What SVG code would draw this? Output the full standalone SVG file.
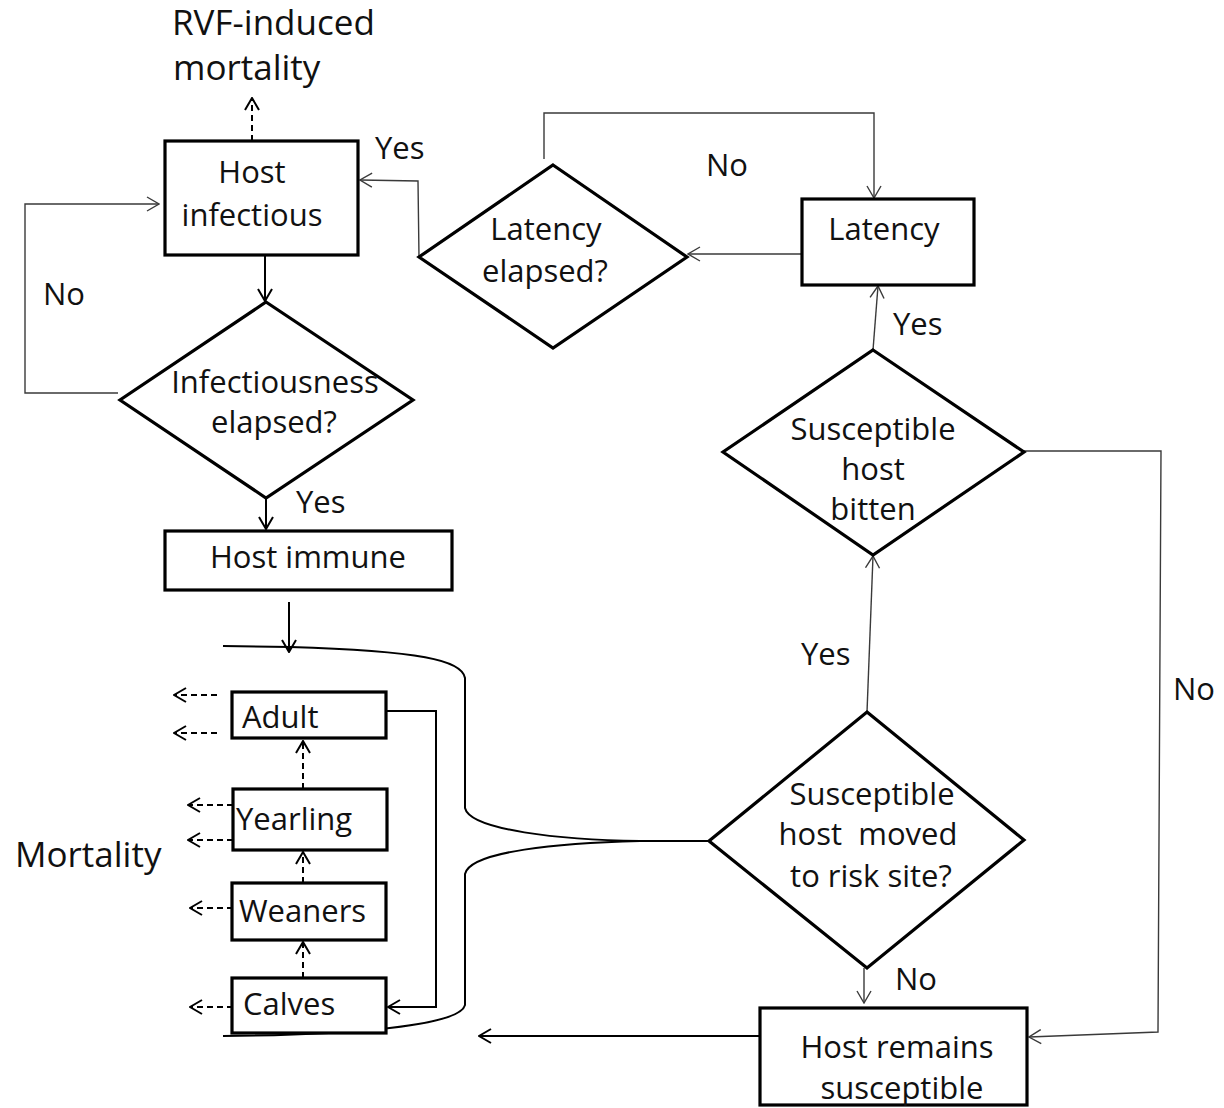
<svg xmlns="http://www.w3.org/2000/svg" width="1224" height="1108" viewBox="0 0 1224 1108">
<defs>
<style>
text{font-family:"Open Sans","Noto Sans",sans-serif;font-size:31px;fill:#111}
.big{font-size:35px}
.mid{text-anchor:middle}
.node{fill:#fff;stroke:#000;stroke-width:3.2}
.thin{fill:none;stroke:#3a3a3a;stroke-width:1.4}
.thick{fill:none;stroke:#000;stroke-width:2}
.dash{fill:none;stroke:#000;stroke-width:2;stroke-dasharray:6 4}
</style>
<marker id="aThin" markerUnits="userSpaceOnUse" viewBox="0 0 14 16" markerWidth="14" markerHeight="16" refX="13" refY="8" orient="auto">
<path d="M1,1 L13,8 L1,15" fill="none" stroke="#3a3a3a" stroke-width="1.4"/>
</marker>
<marker id="aThick" markerUnits="userSpaceOnUse" viewBox="0 0 14 16" markerWidth="14" markerHeight="16" refX="13" refY="8" orient="auto">
<path d="M1,1 L13,8 L1,15" fill="none" stroke="#000" stroke-width="2"/>
</marker>
</defs>
<rect width="1224" height="1108" fill="#fff"/>

<g id="connectors">
<path class="dash" d="M252,141 L252,98" marker-end="url(#aThick)"/>
<path class="thick" d="M265,255 L265,301" marker-end="url(#aThick)"/>
<path class="thin" d="M118,393 L25,393 L25,204 L159,204" marker-end="url(#aThin)"/>
<path class="thick" d="M266,498 L266,529" marker-end="url(#aThick)"/>
<path class="thin" d="M419,257 L418,181 L360,180" marker-end="url(#aThin)"/>
<path class="thin" d="M544,159 L544,113 L874,113 L874,198" marker-end="url(#aThin)"/>
<path class="thin" d="M802,254 L688,254" marker-end="url(#aThin)"/>
<path class="thin" d="M873,350 L878,286" marker-end="url(#aThin)"/>
<path class="thin" d="M867,712 L873,556" marker-end="url(#aThin)"/>
<path class="thin" d="M1024,451 L1161,451 L1158,1032 L1029,1037" marker-end="url(#aThin)"/>
<path class="thin" d="M864,968 L864,1003" marker-end="url(#aThin)"/>
<path class="thick" d="M760,1036 L479,1036" marker-end="url(#aThick)"/>
<path class="thick" d="M289,602 L289,652" marker-end="url(#aThick)"/>
<path class="thick" d="M223,646 L290,647 C420,651 462,660 465,678 L465,808 C470,830 560,840 640,841 L709,841"/>
<path class="thick" d="M709,841 L640,841 C560,843 470,851 465,874 L465,1005 C460,1026 350,1035 223,1036"/>
<path class="thick" d="M386,711 L436,711 L436,1007 L388,1007" marker-end="url(#aThick)"/>
<path class="dash" d="M303,978 L303,942" marker-end="url(#aThick)"/>
<path class="dash" d="M303,883 L303,852" marker-end="url(#aThick)"/>
<path class="dash" d="M303,789 L303,741" marker-end="url(#aThick)"/>
<path class="dash" d="M217,695 L174,695" marker-end="url(#aThick)"/>
<path class="dash" d="M217,733 L174,733" marker-end="url(#aThick)"/>
<path class="dash" d="M233,805 L188,805" marker-end="url(#aThick)"/>
<path class="dash" d="M233,840 L188,840" marker-end="url(#aThick)"/>
<path class="dash" d="M233,908 L190,908" marker-end="url(#aThick)"/>
<path class="dash" d="M233,1007 L190,1007" marker-end="url(#aThick)"/>
</g>

<g id="labels">
<text class="big" x="172" y="35">RVF-induced</text>
<text class="big" x="173" y="80">mortality</text>
<text x="375" y="159">Yes</text>
<text x="43" y="305">No</text>
<text x="296" y="513">Yes</text>
<text x="706" y="176">No</text>
<text x="893" y="335">Yes</text>
<text x="1173" y="700">No</text>
<text x="801" y="665">Yes</text>
<text x="895" y="990">No</text>
<text class="big" x="15" y="867">Mortality</text>
</g>

<g id="host-infectious">
<rect class="node" x="165" y="141" width="193" height="114"/>
<text class="mid" x="252" y="183">Host</text>
<text class="mid" x="252" y="226">infectious</text>
</g>

<g id="infectiousness-elapsed">
<path class="node" d="M266,302 L413,400 L266,498 L120,400 Z"/>
<text class="mid" x="275" y="393">Infectiousness</text>
<text class="mid" x="274" y="433">elapsed?</text>
</g>

<g id="host-immune">
<rect class="node" x="165" y="531" width="287" height="59"/>
<text class="mid" x="308" y="568">Host immune</text>
</g>

<g id="latency-elapsed">
<path class="node" d="M553,165 L687,257 L553,348 L419,257 Z"/>
<text class="mid" x="546" y="240">Latency</text>
<text class="mid" x="545" y="282">elapsed?</text>
</g>

<g id="latency">
<rect class="node" x="802" y="199" width="172" height="86"/>
<text class="mid" x="884" y="240">Latency</text>
</g>

<g id="host-bitten">
<path class="node" d="M873,350 L1024,452 L873,555 L723,452 Z"/>
<text class="mid" x="873" y="440">Susceptible</text>
<text class="mid" x="873" y="480">host</text>
<text class="mid" x="873" y="520">bitten</text>
</g>

<g id="host-moved">
<path class="node" d="M867,712 L1024,840 L867,968 L709,841 Z"/>
<text class="mid" x="872" y="805">Susceptible</text>
<text class="mid" x="868" y="845" style="white-space:pre">host  moved</text>
<text class="mid" x="871" y="887">to risk site?</text>
</g>

<g id="host-remains">
<rect class="node" x="760" y="1008" width="267" height="97"/>
<text class="mid" x="897" y="1058">Host remains</text>
<text class="mid" x="902" y="1099">susceptible</text>
</g>

<g id="adult">
<rect class="node" x="232" y="692" width="154" height="46"/>
<text x="242" y="728">Adult</text>
</g>
<g id="yearling">
<rect class="node" x="233" y="789" width="154" height="61"/>
<text x="236" y="830">Yearling</text>
</g>
<g id="weaners">
<rect class="node" x="232" y="883" width="154" height="57"/>
<text x="239" y="922">Weaners</text>
</g>
<g id="calves">
<rect class="node" x="232" y="978" width="154" height="55"/>
<text x="243" y="1015">Calves</text>
</g>
</svg>
